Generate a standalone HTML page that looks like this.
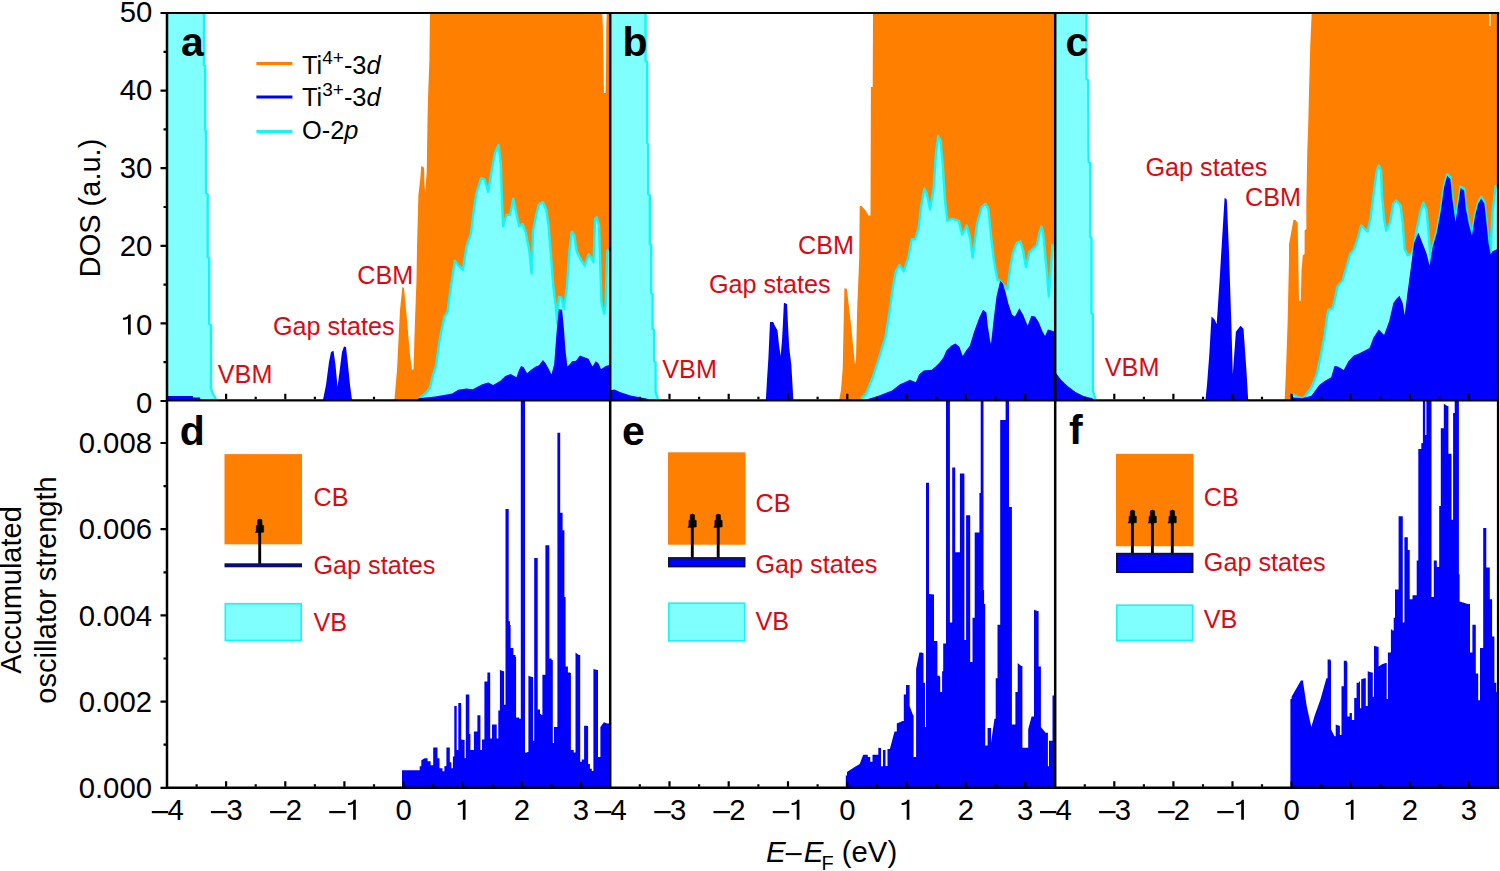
<!DOCTYPE html>
<html><head><meta charset="utf-8"><title>DOS figure</title>
<style>
html,body{margin:0;padding:0;background:#fff;}
body{width:1500px;height:871px;overflow:hidden;}
svg{display:block;font-family:"Liberation Sans", sans-serif;}
.t28{font-size:29.3px;fill:#000;}
.t29{font-size:29px;fill:#000;}
.e{text-anchor:end;}
.m{text-anchor:middle;}
.r24{font-size:25.2px;fill:#DA0A14;}
.lg{font-size:25.4px;fill:#000;}
.sup{font-size:19px;}
.pl{font-size:41px;font-weight:bold;fill:#000;}
</style></head>
<body>
<svg width="1500" height="871" viewBox="0 0 1500 871">
<rect width="1500" height="871" fill="#fff"/>
<path d="M196.6,399.3v-2.5 M226.1,399.3v-5.5 M255.7,399.3v-2.5 M285.3,399.3v-5.5 M314.9,399.3v-2.5 M344.4,399.3v-5.5 M374.0,399.3v-2.5 M403.6,399.3v-5.5 M433.1,399.3v-2.5 M462.7,399.3v-5.5 M492.3,399.3v-2.5 M521.8,399.3v-5.5 M551.4,399.3v-2.5 M581.0,399.3v-5.5" stroke="#000" stroke-width="2.2" fill="none"/>
<polygon points="167.5,13.0 204.0,13.0 204.0,65.0 205.2,66.0 205.2,130.0 206.0,131.0 206.0,193.0 207.7,194.0 207.7,257.0 209.2,258.0 209.2,324.0 211.0,325.0 211.0,388.0 212.5,393.0 215.3,398.0 216.5,401.0 167.5,401.0" fill="#80FFFF" />
<polyline points="204.0,13.0 204.0,65.0 205.2,66.0 205.2,130.0 206.0,131.0 206.0,193.0 207.7,194.0 207.7,257.0 209.2,258.0 209.2,324.0 211.0,325.0 211.0,388.0 212.5,393.0 215.3,398.0 216.1,399.8" fill="none" stroke="#18F4F4" stroke-width="2.4" stroke-linejoin="round" />
<polygon points="166.8,395.9 192.7,395.9 193.2,397.5 200.1,397.5 200.5,401.0 166.8,401.0" fill="#0000FF" />
<polygon points="322.8,401.0 326.0,385.0 329.0,362.0 331.0,352.0 333.5,350.8 335.5,365.0 337.5,387.0 339.5,372.0 342.0,352.0 344.0,346.5 346.0,347.0 348.0,365.0 350.0,385.0 352.1,401.0" fill="#0000FF" />
<polygon points="394.3,401.0 397.0,370.0 400.0,310.0 402.4,286.8 404.0,288.0 407.0,320.0 410.0,355.0 412.0,370.0 413.5,369.0 415.0,320.0 416.5,280.0 417.0,247.0 418.4,195.0 420.3,178.5 421.2,166.0 424.0,167.4 424.5,185.0 425.3,192.0 426.0,180.0 426.7,173.0 427.5,120.0 428.0,98.6 429.4,60.0 430.0,13.0 602.2,13.0 602.8,26.0 603.6,70.0 604.0,93.0 605.5,93.0 606.0,70.0 606.3,26.0 606.8,13.0 610.0,13.0 610.0,401.0" fill="#FF8000" />
<polygon points="418.5,401.0 419.0,398.5 426.0,393.0 430.0,388.0 433.0,375.0 436.0,366.0 438.8,345.0 441.5,330.0 444.5,316.5 447.5,312.0 450.3,290.6 454.9,260.7 458.3,265.3 462.9,269.9 466.4,247.0 471.0,233.2 474.4,205.7 476.7,191.9 481.3,178.2 484.7,179.3 488.2,191.9 491.6,171.3 495.0,152.9 498.5,144.9 500.8,164.4 501.9,198.8 503.1,226.3 506.5,214.9 510.0,214.9 513.4,198.8 515.7,210.3 519.1,226.3 522.6,224.0 526.0,233.2 529.4,251.6 531.6,273.6 533.2,230.2 536.4,214.1 538.8,204.5 542.9,202.1 546.1,209.3 548.5,225.4 550.9,254.3 553.3,286.5 555.7,305.8 557.3,323.4 558.9,296.9 561.4,297.7 563.8,309.0 567.0,286.5 569.4,251.1 571.8,231.8 574.2,235.0 576.6,251.1 581.4,260.7 584.7,265.6 588.7,254.3 591.1,257.5 593.5,262.3 595.1,218.9 596.7,217.3 599.1,225.4 599.9,254.3 601.5,302.5 604.0,313.8 605.6,305.8 607.2,251.1 608.8,249.5 610.0,249.5 610.0,401.0" fill="#80FFFF" />
<polyline points="419.0,398.5 426.0,393.0 430.0,388.0 433.0,375.0 436.0,366.0 438.8,345.0 441.5,330.0 444.5,316.5 447.5,312.0 450.3,290.6 454.9,260.7 458.3,265.3 462.9,269.9 466.4,247.0 471.0,233.2 474.4,205.7 476.7,191.9 481.3,178.2 484.7,179.3 488.2,191.9 491.6,171.3 495.0,152.9 498.5,144.9 500.8,164.4 501.9,198.8 503.1,226.3 506.5,214.9 510.0,214.9 513.4,198.8 515.7,210.3 519.1,226.3 522.6,224.0 526.0,233.2 529.4,251.6 531.6,273.6 533.2,230.2 536.4,214.1 538.8,204.5 542.9,202.1 546.1,209.3 548.5,225.4 550.9,254.3 553.3,286.5 555.7,305.8 557.3,323.4 558.9,296.9 561.4,297.7 563.8,309.0 567.0,286.5 569.4,251.1 571.8,231.8 574.2,235.0 576.6,251.1 581.4,260.7 584.7,265.6 588.7,254.3 591.1,257.5 593.5,262.3 595.1,218.9 596.7,217.3 599.1,225.4 599.9,254.3 601.5,302.5 604.0,313.8 605.6,305.8 607.2,251.1 608.8,249.5 610.0,249.5" fill="none" stroke="#18F4F4" stroke-width="2.4" stroke-linejoin="round" />
<polygon points="418.4,401.0 418.4,398.2 435.3,396.4 452.2,393.4 458.2,389.8 466.6,388.6 472.7,389.2 482.3,384.3 488.3,382.5 493.1,384.9 500.0,381.1 505.3,375.9 510.6,373.9 516.5,377.2 519.0,370.0 521.1,366.0 523.5,367.0 527.1,373.2 531.7,369.3 535.7,366.6 539.0,365.3 542.9,360.0 545.6,363.3 548.9,369.3 551.5,374.5 554.2,364.0 555.5,346.8 556.8,329.6 558.8,309.2 562.1,309.8 564.1,331.0 565.4,349.4 567.4,366.6 570.0,364.0 572.0,361.3 576.0,360.7 579.9,355.4 583.2,356.7 588.5,358.7 592.5,366.6 595.8,361.3 598.4,363.3 601.1,369.3 605.7,366.0 608.3,365.3 610.0,365.3 610.0,401.0" fill="#0000FF" />
<polygon points="611.0,13.0 645.6,13.0 645.6,61.0 647.2,62.0 647.2,143.0 648.2,144.0 648.2,194.0 649.8,195.0 649.8,244.0 651.2,245.0 651.2,293.0 652.6,294.0 652.6,329.0 654.1,330.0 654.1,361.0 655.6,362.0 655.6,392.0 657.4,397.4 658.5,401.0 611.0,401.0" fill="#80FFFF" />
<polyline points="645.6,13.0 645.6,61.0 647.2,62.0 647.2,143.0 648.2,144.0 648.2,194.0 649.8,195.0 649.8,244.0 651.2,245.0 651.2,293.0 652.6,294.0 652.6,329.0 654.1,330.0 654.1,361.0 655.6,362.0 655.6,392.0 657.4,397.4 658.1,399.8" fill="none" stroke="#18F4F4" stroke-width="2.4" stroke-linejoin="round" />
<polygon points="611.0,390.0 614.6,389.5 620.0,392.0 630.5,395.5 647.5,398.8 650.0,401.0 611.0,401.0" fill="#0000FF" />
<polygon points="765.8,401.0 767.0,380.0 768.4,358.0 770.0,322.0 773.2,322.0 775.0,326.0 777.5,330.4 779.0,345.0 780.7,355.9 782.0,340.0 782.8,326.0 783.9,302.8 787.0,303.9 788.0,325.0 789.2,347.4 791.3,364.4 792.5,385.0 793.4,401.0" fill="#0000FF" />
<polygon points="839.0,401.0 841.0,390.0 842.7,368.6 844.4,288.0 846.9,289.0 850.7,321.9 855.0,364.4 856.0,360.0 857.1,311.3 859.2,258.2 859.7,205.9 861.7,205.9 866.0,211.0 868.5,215.5 870.5,215.5 870.9,87.0 872.7,87.0 873.0,13.0 1055.0,13.0 1055.0,401.0" fill="#FF8000" />
<polygon points="859.5,401.0 861.0,398.5 866.0,394.0 872.9,377.0 879.0,358.0 885.5,336.7 889.5,312.0 893.1,286.0 896.0,271.0 899.4,265.0 903.8,271.4 908.3,257.6 911.8,239.3 915.2,239.3 918.7,227.8 921.0,207.2 924.4,188.8 926.7,193.4 930.1,209.4 933.6,188.8 935.9,154.4 938.2,136.1 940.5,140.6 942.8,165.9 945.0,200.3 947.3,220.9 951.9,218.6 958.8,220.9 962.2,234.7 966.8,225.5 970.3,239.3 972.6,257.6 977.2,223.2 981.7,207.2 985.5,203.8 988.3,208.3 991.0,235.9 993.8,259.7 997.4,279.9 1000.2,280.8 1003.9,285.4 1007.5,289.1 1010.3,267.1 1013.0,252.4 1016.7,243.2 1020.4,241.4 1023.1,250.6 1025.9,267.1 1029.5,252.4 1033.2,248.7 1036.9,245.0 1039.6,232.2 1041.5,226.7 1043.3,234.0 1045.1,254.2 1047.0,272.6 1048.8,296.4 1050.6,272.6 1052.5,245.0 1054.5,245.0 1055.0,401.0" fill="#80FFFF" />
<polyline points="861.0,398.5 866.0,394.0 872.9,377.0 879.0,358.0 885.5,336.7 889.5,312.0 893.1,286.0 896.0,271.0 899.4,265.0 903.8,271.4 908.3,257.6 911.8,239.3 915.2,239.3 918.7,227.8 921.0,207.2 924.4,188.8 926.7,193.4 930.1,209.4 933.6,188.8 935.9,154.4 938.2,136.1 940.5,140.6 942.8,165.9 945.0,200.3 947.3,220.9 951.9,218.6 958.8,220.9 962.2,234.7 966.8,225.5 970.3,239.3 972.6,257.6 977.2,223.2 981.7,207.2 985.5,203.8 988.3,208.3 991.0,235.9 993.8,259.7 997.4,279.9 1000.2,280.8 1003.9,285.4 1007.5,289.1 1010.3,267.1 1013.0,252.4 1016.7,243.2 1020.4,241.4 1023.1,250.6 1025.9,267.1 1029.5,252.4 1033.2,248.7 1036.9,245.0 1039.6,232.2 1041.5,226.7 1043.3,234.0 1045.1,254.2 1047.0,272.6 1048.8,296.4 1050.6,272.6 1052.5,245.0 1054.5,245.0" fill="none" stroke="#18F4F4" stroke-width="2.4" stroke-linejoin="round" />
<polygon points="861.4,401.0 877.8,395.9 892.0,390.6 900.0,384.3 904.6,382.3 909.9,379.7 915.8,382.3 919.1,374.4 923.7,370.5 931.7,369.8 935.6,366.5 939.6,362.6 943.5,357.3 946.2,350.7 951.5,345.4 955.4,343.4 959.4,346.7 962.7,356.0 966.0,350.7 969.9,345.4 973.9,332.2 979.2,317.7 983.1,309.8 986.4,312.4 987.7,325.6 990.0,340.1 991.0,344.1 993.8,318.4 996.5,296.4 1000.2,280.8 1002.9,283.6 1005.7,292.8 1008.4,303.8 1012.1,314.8 1014.9,316.6 1019.4,308.3 1023.1,314.8 1027.7,325.8 1031.4,315.7 1035.0,316.6 1038.7,322.1 1042.4,331.3 1045.1,335.9 1047.9,329.4 1051.6,330.4 1053.4,331.3 1055.0,331.3 1055.0,401.0" fill="#0000FF" />
<polygon points="1056.0,13.0 1086.5,13.0 1086.5,79.0 1088.2,80.0 1088.5,153.0 1088.7,162.0 1090.3,163.0 1090.3,237.0 1091.5,238.0 1091.5,313.0 1092.9,314.0 1092.9,391.0 1094.5,396.0 1096.0,401.0 1056.0,401.0" fill="#80FFFF" />
<polyline points="1086.5,13.0 1086.5,79.0 1088.2,80.0 1088.5,153.0 1088.7,162.0 1090.3,163.0 1090.3,237.0 1091.5,238.0 1091.5,313.0 1092.9,314.0 1092.9,391.0 1094.5,396.0 1095.6,399.8" fill="none" stroke="#18F4F4" stroke-width="2.4" stroke-linejoin="round" />
<polygon points="1056.0,372.9 1060.6,379.2 1067.0,385.6 1075.5,392.0 1084.0,396.2 1092.5,398.3 1094.0,401.0 1056.0,401.0" fill="#0000FF" />
<polygon points="1205.4,401.0 1207.0,385.0 1209.4,353.0 1211.5,316.6 1214.6,319.6 1216.7,324.2 1219.8,277.0 1222.2,237.4 1224.6,197.8 1226.8,199.4 1228.9,249.6 1231.3,322.6 1232.8,374.4 1235.9,331.8 1240.5,325.7 1243.5,328.7 1246.5,371.4 1248.1,398.7 1248.5,401.0" fill="#0000FF" />
<polygon points="1284.6,401.0 1286.0,370.0 1287.6,322.6 1289.0,260.0 1289.0,244.3 1290.4,236.7 1291.8,229.1 1293.5,219.8 1295.6,220.0 1297.7,222.9 1298.3,260.0 1299.0,301.0 1300.8,301.0 1301.5,270.0 1302.8,255.3 1304.6,254.0 1304.6,230.5 1306.3,229.0 1306.3,205.0 1307.3,150.6 1308.1,130.0 1308.9,96.4 1310.3,44.0 1311.7,13.0 1498.0,13.0 1498.0,401.0" fill="#FF8000" />
<polygon points="1290.0,401.0 1292.0,394.0 1296.0,396.0 1300.0,398.0 1303.5,398.3 1311.4,387.8 1316.7,374.5 1320.7,356.0 1324.6,334.9 1327.3,315.1 1328.6,309.8 1332.6,308.5 1335.2,297.9 1337.6,286.0 1342.7,280.2 1346.9,265.7 1350.0,254.3 1354.1,249.2 1358.2,236.8 1361.3,225.4 1364.4,228.5 1367.5,231.6 1370.6,218.2 1373.7,193.4 1376.8,170.7 1378.9,165.5 1381.0,170.7 1382.0,195.5 1384.0,218.2 1386.1,230.6 1390.2,222.3 1393.3,203.7 1396.4,200.6 1400.6,205.8 1402.6,222.3 1404.7,249.2 1407.8,255.4 1411.9,253.3 1413.1,251.2 1416.2,232.6 1420.3,212.0 1423.4,202.7 1426.5,209.9 1428.6,232.6 1429.6,249.2 1430.7,261.6 1432.7,245.5 1436.9,231.0 1441.0,208.3 1444.1,185.6 1447.2,174.2 1450.3,177.3 1452.4,198.0 1455.5,220.7 1458.6,200.1 1460.6,186.6 1464.1,188.7 1465.8,206.3 1468.9,222.8 1472.0,234.1 1475.1,214.5 1478.2,202.1 1481.3,197.0 1484.4,202.1 1486.4,220.7 1488.5,241.4 1490.6,252.7 1492.6,212.0 1495.7,186.2 1497.0,186.0 1498.0,401.0" fill="#80FFFF" />
<polyline points="1292.0,394.0 1296.0,396.0 1300.0,398.0 1303.5,398.3 1311.4,387.8 1316.7,374.5 1320.7,356.0 1324.6,334.9 1327.3,315.1 1328.6,309.8 1332.6,308.5 1335.2,297.9 1337.6,286.0 1342.7,280.2 1346.9,265.7 1350.0,254.3 1354.1,249.2 1358.2,236.8 1361.3,225.4 1364.4,228.5 1367.5,231.6 1370.6,218.2 1373.7,193.4 1376.8,170.7 1378.9,165.5 1381.0,170.7 1382.0,195.5 1384.0,218.2 1386.1,230.6 1390.2,222.3 1393.3,203.7 1396.4,200.6 1400.6,205.8 1402.6,222.3 1404.7,249.2 1407.8,255.4 1411.9,253.3 1413.1,251.2 1416.2,232.6 1420.3,212.0 1423.4,202.7 1426.5,209.9 1428.6,232.6 1429.6,249.2 1430.7,261.6 1432.7,245.5 1436.9,231.0 1441.0,208.3 1444.1,185.6 1447.2,174.2 1450.3,177.3 1452.4,198.0 1455.5,220.7 1458.6,200.1 1460.6,186.6 1464.1,188.7 1465.8,206.3 1468.9,222.8 1472.0,234.1 1475.1,214.5 1478.2,202.1 1481.3,197.0 1484.4,202.1 1486.4,220.7 1488.5,241.4 1490.6,252.7 1492.6,212.0 1495.7,186.2 1497.0,186.0" fill="none" stroke="#18F4F4" stroke-width="2.4" stroke-linejoin="round" />
<polygon points="1290.5,401.0 1291.6,394.4 1293.5,397.5 1302.2,398.3 1311.4,395.7 1319.3,385.1 1324.6,381.1 1331.2,377.2 1334.5,366.0 1337.8,366.6 1343.8,369.9 1348.4,361.3 1353.7,355.4 1359.0,353.4 1364.3,350.8 1369.5,348.1 1373.5,337.6 1378.8,329.6 1384.1,334.9 1389.4,320.4 1393.3,303.2 1396.4,298.8 1399.5,295.7 1402.6,302.9 1404.7,315.3 1407.8,290.5 1410.0,274.0 1414.1,243.0 1418.3,232.6 1422.4,243.0 1426.5,253.3 1429.6,265.7 1432.7,247.1 1436.9,232.6 1441.0,209.9 1444.1,187.2 1447.2,175.8 1450.3,178.9 1452.4,199.6 1455.5,222.3 1458.6,201.7 1460.6,188.2 1464.1,190.3 1465.8,207.9 1468.9,224.4 1472.0,235.7 1475.1,216.1 1478.2,203.7 1481.3,198.6 1484.4,203.7 1486.4,222.3 1488.5,243.0 1490.6,254.3 1492.6,251.2 1496.8,249.2 1498.0,249.2 1498.0,401.0" fill="#0000FF" />
<rect x="1489.2" y="13.0" width="1.5" height="13" fill="#FFF2D0"/>
<polygon points="402.0,788.5 402.0,770.2 418.8,770.2 419.7,770.2 419.7,766.2 421.3,766.2 421.3,760.3 424.7,758.3 427.6,758.3 427.6,761.3 430.6,761.3 430.6,765.3 433.2,765.3 433.2,765.0 433.2,747.5 436.5,747.5 437.5,747.5 437.5,758.3 439.5,758.3 439.5,768.2 442.5,768.2 442.5,771.2 444.4,771.2 444.4,766.2 446.4,766.0 446.4,747.5 449.0,747.5 449.8,747.5 449.8,762.3 451.4,762.3 451.4,768.2 452.9,768.2 452.9,756.4 454.3,756.4 454.3,756.0 454.3,706.0 456.7,706.0 456.7,750.0 458.3,750.0 458.3,703.0 461.2,703.0 461.2,739.6 464.6,740.0 464.6,758.2 465.8,758.0 465.8,694.4 468.8,694.4 469.3,694.4 469.3,733.9 470.4,733.9 470.4,750.1 473.9,750.0 473.9,731.5 477.4,731.5 477.4,715.3 479.7,715.3 480.4,715.3 480.4,750.1 482.0,750.1 482.0,739.6 484.4,739.6 484.4,681.6 487.4,681.6 487.4,672.4 489.7,672.4 490.2,672.4 490.2,738.5 492.0,738.5 492.0,724.6 494.8,724.6 496.7,724.6 496.7,738.5 498.3,738.5 498.3,710.6 499.9,710.6 499.9,670.0 503.6,671.2 504.1,671.2 504.1,704.8 505.5,704.8 505.5,508.9 508.7,508.9 508.7,621.3 510.0,621.3 510.0,625.0 510.6,625.0 510.6,648.0 513.4,648.0 513.4,655.0 515.5,655.0 515.5,657.0 516.1,657.0 516.1,717.6 519.2,717.6 519.2,718.8 520.8,718.8 520.8,401.0 525.0,401.0 525.0,752.4 527.3,752.4 527.3,752.0 528.4,752.0 528.4,675.8 531.9,677.0 533.1,677.0 533.1,740.8 534.2,740.8 534.2,558.1 537.0,558.1 537.7,558.1 537.7,709.5 540.0,709.5 540.0,714.1 541.2,714.1 541.2,715.0 542.4,715.0 542.4,674.7 545.4,674.7 545.4,545.3 548.6,545.3 549.3,545.3 549.3,658.4 551.6,658.4 551.6,660.0 552.8,660.0 552.8,743.1 554.0,743.1 554.0,726.9 557.4,726.9 557.4,432.8 560.2,432.8 560.2,512.8 562.6,512.8 562.6,530.2 564.4,530.2 564.4,597.0 565.6,597.0 565.6,666.6 567.9,666.6 567.9,672.4 570.2,672.4 570.2,673.0 570.9,673.0 570.9,750.1 573.7,750.1 573.7,752.4 575.5,752.4 575.5,652.6 578.8,655.0 580.2,655.0 580.2,761.7 581.8,761.7 581.8,759.4 584.1,759.4 584.1,759.0 584.1,725.7 587.2,725.7 587.2,726.0 588.1,726.0 588.1,764.0 589.9,764.0 589.9,768.7 591.8,768.7 591.8,771.0 593.4,771.0 593.4,668.9 597.4,670.0 598.0,670.0 598.0,757.1 600.4,757.1 600.4,726.9 603.9,722.2 607.3,723.4 609.0,723.4 609.0,725.0 609.0,788.5" fill="#0000FF" />
<polygon points="845.8,788.5 845.8,775.6 847.0,775.6 847.0,772.1 853.9,767.5 859.7,764.0 863.2,754.7 865.5,754.7 867.8,754.7 867.8,757.0 870.2,757.0 870.2,761.7 872.5,761.7 872.5,754.7 876.0,754.7 878.3,754.7 878.3,747.8 880.5,748.0 881.0,748.0 881.0,766.3 882.5,766.3 883.0,766.3 883.0,750.1 885.0,750.1 885.5,750.1 885.5,766.0 887.0,766.0 887.5,766.0 887.5,748.9 889.9,748.9 894.5,731.5 896.8,731.5 896.8,723.4 902.6,721.1 903.8,721.1 903.8,694.4 906.0,694.4 906.0,685.1 908.0,685.1 909.6,685.1 909.6,706.0 913.1,715.3 913.6,715.3 913.6,757.0 915.0,757.0 916.1,757.0 916.1,668.9 919.4,652.6 922.3,652.6 922.3,653.0 923.5,653.0 923.5,682.8 925.0,682.8 925.0,726.9 926.0,726.9 926.0,482.7 929.0,482.7 929.0,594.0 933.6,594.6 934.0,594.6 934.0,641.0 936.3,641.0 937.4,641.0 937.4,675.8 939.8,675.8 939.8,677.0 940.2,677.0 940.2,692.1 942.1,692.1 942.1,671.2 943.2,671.2 943.2,643.4 946.0,643.4 946.0,643.0 946.0,401.0 949.9,401.0 949.9,622.5 951.0,622.5 952.2,622.5 952.2,600.0 952.2,467.6 955.2,467.6 955.2,552.3 959.2,552.3 959.9,552.3 959.9,473.4 963.8,473.4 964.4,473.4 964.4,639.9 965.5,639.9 966.1,639.9 966.1,515.2 969.6,515.2 970.2,515.2 970.2,661.9 971.3,661.9 972.5,661.9 972.5,617.8 974.7,617.8 974.7,532.6 979.4,532.6 979.4,493.1 980.7,493.1 980.7,401.0 983.5,401.0 983.5,590.0 984.1,590.0 984.1,604.0 985.2,604.0 985.2,745.5 986.5,745.5 987.6,745.5 987.6,728.0 990.0,728.0 991.0,728.0 991.0,743.1 994.5,718.8 995.7,718.8 995.7,678.2 997.5,678.2 997.5,624.8 1000.2,624.8 1000.2,600.0 1000.2,420.0 1004.4,420.0 1005.6,420.0 1005.6,401.0 1009.0,401.0 1009.0,507.0 1010.9,507.0 1011.9,507.0 1011.9,724.6 1014.3,724.6 1015.4,724.6 1015.4,692.1 1017.7,692.1 1017.7,663.1 1021.2,666.0 1022.4,666.0 1022.4,747.8 1025.8,747.8 1028.2,747.8 1028.2,729.2 1031.6,716.5 1034.0,716.5 1034.0,609.7 1037.5,611.0 1038.6,611.0 1038.6,666.6 1040.9,666.6 1040.9,726.9 1045.6,732.7 1047.9,732.7 1047.9,766.3 1049.0,766.3 1049.0,740.8 1051.4,740.8 1052.5,740.8 1052.5,695.6 1054.5,695.6 1054.5,788.5" fill="#0000FF" />
<polygon points="1290.4,788.5 1290.4,699.0 1291.6,699.0 1291.6,696.7 1300.9,680.5 1303.2,680.5 1303.2,682.8 1306.7,706.0 1311.3,726.9 1314.8,715.3 1320.6,699.0 1326.4,678.2 1327.6,678.2 1327.6,659.6 1330.6,659.6 1330.6,660.8 1331.0,660.8 1331.0,729.2 1334.5,736.2 1335.7,736.2 1335.7,724.6 1339.2,725.7 1339.9,725.7 1339.9,735.0 1341.5,735.0 1341.5,686.3 1343.8,686.3 1343.8,660.8 1346.8,660.8 1346.8,662.0 1347.3,662.0 1347.3,716.5 1349.6,716.5 1349.6,713.0 1351.9,713.0 1351.9,720.0 1354.2,720.0 1354.2,697.9 1356.6,697.9 1356.6,682.8 1358.9,682.8 1358.9,681.6 1360.0,681.6 1360.0,708.3 1361.2,708.3 1361.2,679.3 1364.7,678.2 1365.8,678.2 1365.8,706.0 1367.7,706.0 1367.7,671.2 1371.6,672.4 1372.8,672.4 1372.8,696.7 1374.0,696.7 1374.0,645.7 1377.4,646.8 1378.6,646.8 1378.6,666.6 1382.1,664.2 1385.6,663.1 1386.7,663.1 1386.7,699.0 1387.9,699.0 1387.9,652.6 1390.9,652.6 1390.9,629.4 1392.3,629.4 1392.3,630.6 1393.7,630.6 1393.7,617.8 1395.0,617.8 1395.0,589.4 1398.6,589.4 1398.6,516.3 1402.5,516.3 1402.8,516.3 1402.8,622.5 1403.9,622.5 1404.4,622.5 1404.4,537.2 1407.8,537.2 1407.8,550.0 1409.7,550.0 1409.7,599.3 1412.5,599.3 1412.5,595.2 1416.0,595.2 1416.7,595.2 1416.7,560.4 1418.3,560.4 1418.3,449.0 1421.3,449.0 1421.3,443.2 1422.9,443.0 1422.9,401.0 1425.2,401.0 1425.2,435.0 1426.4,435.0 1426.4,401.0 1431.0,401.0 1431.5,401.0 1431.5,597.0 1433.8,597.0 1433.8,560.4 1436.8,560.4 1436.8,567.0 1439.2,567.0 1439.2,505.9 1440.8,505.9 1440.8,428.2 1443.8,428.2 1443.8,403.8 1447.3,406.0 1448.4,406.0 1448.4,453.7 1451.5,453.7 1451.5,519.8 1453.1,519.8 1453.1,413.1 1454.7,413.1 1454.7,401.0 1458.9,401.0 1458.9,574.3 1459.6,574.3 1459.6,601.6 1464.0,602.8 1467.7,604.0 1470.0,604.0 1470.0,652.6 1472.4,652.6 1472.4,624.8 1474.7,624.8 1475.8,624.8 1475.8,673.5 1478.2,673.5 1478.2,700.2 1480.0,700.2 1480.0,648.0 1482.8,648.0 1483.2,648.0 1483.2,527.9 1486.3,527.9 1486.3,567.4 1489.0,567.4 1489.8,567.4 1489.8,599.3 1492.1,599.3 1492.1,636.4 1494.4,636.4 1494.4,682.8 1496.3,682.8 1496.3,692.1 1497.9,692.0 1497.9,788.5" fill="#0000FF" />
<rect x="224.5" y="454.1" width="77.5" height="90.2" fill="#FF8000"/>
<rect x="224.5" y="563.3" width="77.5" height="4.0" fill="#0A0A78"/>
<line x1="259.7" y1="563.8" x2="259.7" y2="524.9" stroke="#000" stroke-width="2.9"/>
<path d="M257.6,519.8 Q259.8,518.2 262.0,519.8 L262.1,525.2 L263.7,525.5 L263.7,532.2 L255.3,532.6 L256.3,530.7 L256.3,525.5 L257.6,525.2 Z" fill="#000" stroke="#000" stroke-width="0.5" stroke-linejoin="round"/>
<rect x="225.3" y="603.6999999999999" width="75.9" height="36.7" fill="#80FFFF" stroke="#18F4F4" stroke-width="1.6"/>
<text x="313.5" y="506.2" class="r24">CB</text>
<text x="313.5" y="573.9" class="r24">Gap states</text>
<text x="313.5" y="631.2" class="r24">VB</text>
<rect x="668.0" y="452.3" width="77.5" height="92.4" fill="#FF8000"/>
<rect x="668.9" y="558.0" width="75.7" height="8.5" fill="#0000FF" stroke="#101040" stroke-width="1.8"/>
<line x1="692.3" y1="557.6" x2="692.3" y2="520.0" stroke="#000" stroke-width="2.9"/>
<path d="M690.2,514.9 Q692.4,513.3 694.6,514.9 L694.7,520.1 L696.3,520.5 L696.3,527.0 L687.9,527.4 L688.9,525.5 L688.9,520.5 L690.2,520.1 Z" fill="#000" stroke="#000" stroke-width="0.5" stroke-linejoin="round"/>
<line x1="718.2" y1="557.6" x2="718.2" y2="520.0" stroke="#000" stroke-width="2.9"/>
<path d="M716.1,514.9 Q718.3,513.3 720.5,514.9 L720.6,520.1 L722.2,520.5 L722.2,527.0 L713.8,527.4 L714.8,525.5 L714.8,520.5 L716.1,520.1 Z" fill="#000" stroke="#000" stroke-width="0.5" stroke-linejoin="round"/>
<rect x="668.8" y="603.1999999999999" width="75.9" height="37.7" fill="#80FFFF" stroke="#18F4F4" stroke-width="1.6"/>
<text x="755.5" y="511.7" class="r24">CB</text>
<text x="755.5" y="572.9" class="r24">Gap states</text>
<text x="755.5" y="630.2" class="r24">VB</text>
<rect x="1116.0" y="453.8" width="77.5" height="92.4" fill="#FF8000"/>
<rect x="1116.9" y="553.6999999999999" width="75.7" height="18.4" fill="#0000FF" stroke="#101040" stroke-width="1.8"/>
<line x1="1132.4" y1="553.3" x2="1132.4" y2="516.0" stroke="#000" stroke-width="2.9"/>
<path d="M1130.3,510.9 Q1132.5,509.3 1134.7,510.9 L1134.8,516.0 L1136.4,516.4 L1136.4,522.7 L1128.0,523.1 L1129.0,521.2 L1129.0,516.4 L1130.3,516.0 Z" fill="#000" stroke="#000" stroke-width="0.5" stroke-linejoin="round"/>
<line x1="1152.4" y1="553.3" x2="1152.4" y2="516.0" stroke="#000" stroke-width="2.9"/>
<path d="M1150.3,510.9 Q1152.5,509.3 1154.7,510.9 L1154.8,516.0 L1156.4,516.4 L1156.4,522.7 L1148.0,523.1 L1149.0,521.2 L1149.0,516.4 L1150.3,516.0 Z" fill="#000" stroke="#000" stroke-width="0.5" stroke-linejoin="round"/>
<line x1="1172.3" y1="553.3" x2="1172.3" y2="516.0" stroke="#000" stroke-width="2.9"/>
<path d="M1170.2,510.9 Q1172.4,509.3 1174.6,510.9 L1174.7,516.0 L1176.3,516.4 L1176.3,522.7 L1167.9,523.1 L1168.9,521.2 L1168.9,516.4 L1170.2,516.0 Z" fill="#000" stroke="#000" stroke-width="0.5" stroke-linejoin="round"/>
<rect x="1116.8" y="605.1999999999999" width="75.9" height="35.2" fill="#80FFFF" stroke="#18F4F4" stroke-width="1.6"/>
<text x="1203.8" y="506.0" class="r24">CB</text>
<text x="1203.8" y="570.6" class="r24">Gap states</text>
<text x="1203.8" y="628.2" class="r24">VB</text>
<path d="M639.8,399.3v-2.5 M669.5,399.3v-5.5 M699.1,399.3v-2.5 M728.7,399.3v-5.5 M758.4,399.3v-2.5 M788.0,399.3v-5.5 M817.6,399.3v-2.5 M847.3,399.3v-5.5 M876.9,399.3v-2.5 M906.6,399.3v-5.5 M936.2,399.3v-2.5 M965.8,399.3v-5.5 M995.5,399.3v-2.5 M1025.1,399.3v-5.5 M1084.8,399.3v-2.5 M1114.3,399.3v-5.5 M1143.9,399.3v-2.5 M1173.4,399.3v-5.5 M1203.0,399.3v-2.5 M1232.5,399.3v-5.5 M1262.0,399.3v-2.5 M1291.6,399.3v-5.5 M1321.2,399.3v-2.5 M1350.7,399.3v-5.5 M1380.2,399.3v-2.5 M1409.8,399.3v-5.5 M1439.4,399.3v-2.5 M1468.9,399.3v-5.5 M196.6,786.8v-2.5 M226.1,786.8v-5.5 M255.7,786.8v-2.5 M285.3,786.8v-5.5 M314.9,786.8v-2.5 M344.4,786.8v-5.5 M374.0,786.8v-2.5 M403.6,786.8v-5.5 M433.1,786.8v-2.5 M462.7,786.8v-5.5 M492.3,786.8v-2.5 M521.8,786.8v-5.5 M551.4,786.8v-2.5 M581.0,786.8v-5.5 M639.8,786.8v-2.5 M669.5,786.8v-5.5 M699.1,786.8v-2.5 M728.7,786.8v-5.5 M758.4,786.8v-2.5 M788.0,786.8v-5.5 M817.6,786.8v-2.5 M847.3,786.8v-5.5 M876.9,786.8v-2.5 M906.6,786.8v-5.5 M936.2,786.8v-2.5 M965.8,786.8v-5.5 M995.5,786.8v-2.5 M1025.1,786.8v-5.5 M1084.8,786.8v-2.5 M1114.3,786.8v-5.5 M1143.9,786.8v-2.5 M1173.4,786.8v-5.5 M1203.0,786.8v-2.5 M1232.5,786.8v-5.5 M1262.0,786.8v-2.5 M1291.6,786.8v-5.5 M1321.2,786.8v-2.5 M1350.7,786.8v-5.5 M1380.2,786.8v-2.5 M1409.8,786.8v-5.5 M1439.4,786.8v-2.5 M1468.9,786.8v-5.5 M166.0,401.0h-5.5 M166.0,362.2h-2.5 M166.0,323.4h-5.5 M166.0,284.6h-2.5 M166.0,245.8h-5.5 M166.0,207.0h-2.5 M166.0,168.2h-5.5 M166.0,129.4h-2.5 M166.0,90.6h-5.5 M166.0,51.8h-2.5 M166.0,13.0h-5.5 M166.0,787.8h-5.5 M166.0,744.7h-2.5 M166.0,701.6h-5.5 M166.0,658.5h-2.5 M166.0,615.4h-5.5 M166.0,572.3h-2.5 M166.0,529.2h-5.5 M166.0,486.1h-2.5 M166.0,443.0h-5.5" stroke="#000" stroke-width="2.2" fill="none"/>
<line x1="167.0" y1="13.0" x2="167.0" y2="789.0" stroke="#000" stroke-width="2.5"/>
<line x1="165.8" y1="13.0" x2="1499.2" y2="13.0" stroke="#000" stroke-width="2.2"/>
<line x1="165.8" y1="787.8" x2="1499.2" y2="787.8" stroke="#000" stroke-width="2.4"/>
<line x1="1498" y1="13.0" x2="1498" y2="787.8" stroke="#000" stroke-width="2.2"/>
<line x1="167.0" y1="400.3" x2="1498" y2="400.3" stroke="#000" stroke-width="2.3"/>
<line x1="610.2" y1="13.0" x2="610.2" y2="787.8" stroke="#000" stroke-width="2.5"/>
<line x1="1055.2" y1="13.0" x2="1055.2" y2="787.8" stroke="#000" stroke-width="2.5"/>
<text x="152.3" y="412.9" class="t28 e">0</text>
<text x="152.3" y="334.6" class="t28 e">0</text>
<path d="M128.01,334.62 L130.71,334.62 L130.71,314.46 L128.68,314.46 C128.22,316.31 126.11,317.48 122.94,317.77 L122.94,319.82 C125.23,319.68 126.98,319.24 128.01,318.50 Z" fill="#000"/>
<text x="152.3" y="256.3" class="t28 e">20</text>
<text x="152.3" y="178.1" class="t28 e">30</text>
<text x="152.3" y="99.8" class="t28 e">40</text>
<text x="152.3" y="21.5" class="t28 e">50</text>
<text x="152.0" y="797.9" class="t28 e">0.000</text>
<text x="152.0" y="711.7" class="t28 e">0.002</text>
<text x="152.0" y="625.5" class="t28 e">0.004</text>
<text x="152.0" y="539.3" class="t28 e">0.006</text>
<text x="152.0" y="453.1" class="t28 e">0.008</text>
<rect x="151.8" y="811.0" width="16.4" height="2.2" fill="#000"/>
<text x="167.4" y="819.8" class="t28">4</text>
<rect x="210.9" y="811.0" width="16.4" height="2.2" fill="#000"/>
<text x="226.6" y="819.8" class="t28">3</text>
<rect x="270.1" y="811.0" width="16.4" height="2.2" fill="#000"/>
<text x="285.7" y="819.8" class="t28">2</text>
<rect x="329.2" y="811.0" width="16.4" height="2.2" fill="#000"/>
<path d="M353.12,819.80 L355.82,819.80 L355.82,799.64 L353.80,799.64 C353.33,801.49 351.22,802.66 348.05,802.95 L348.05,805.00 C350.34,804.86 352.10,804.42 353.12,803.68 Z" fill="#000"/>
<text x="403.6" y="819.8" class="t28 m">0</text>
<path d="M462.85,819.80 L465.54,819.80 L465.54,799.64 L463.52,799.64 C463.05,801.49 460.94,802.66 457.78,802.95 L457.78,805.00 C460.06,804.86 461.82,804.42 462.85,803.68 Z" fill="#000"/>
<text x="521.8" y="819.8" class="t28 m">2</text>
<text x="581.0" y="819.8" class="t28 m">3</text>
<rect x="595.0" y="811.0" width="16.4" height="2.2" fill="#000"/>
<text x="610.6" y="819.8" class="t28">4</text>
<rect x="654.3" y="811.0" width="16.4" height="2.2" fill="#000"/>
<text x="669.9" y="819.8" class="t28">3</text>
<rect x="713.5" y="811.0" width="16.4" height="2.2" fill="#000"/>
<text x="729.2" y="819.8" class="t28">2</text>
<rect x="772.8" y="811.0" width="16.4" height="2.2" fill="#000"/>
<path d="M796.71,819.80 L799.41,819.80 L799.41,799.64 L797.39,799.64 C796.92,801.49 794.81,802.66 791.64,802.95 L791.64,805.00 C793.93,804.86 795.69,804.42 796.71,803.68 Z" fill="#000"/>
<text x="847.3" y="819.8" class="t28 m">0</text>
<path d="M906.70,819.80 L909.39,819.80 L909.39,799.64 L907.37,799.64 C906.90,801.49 904.79,802.66 901.63,802.95 L901.63,805.00 C903.91,804.86 905.67,804.42 906.70,803.68 Z" fill="#000"/>
<text x="965.8" y="819.8" class="t28 m">2</text>
<text x="1025.1" y="819.8" class="t28 m">3</text>
<rect x="1040.0" y="811.0" width="16.4" height="2.2" fill="#000"/>
<text x="1055.6" y="819.8" class="t28">4</text>
<rect x="1099.1" y="811.0" width="16.4" height="2.2" fill="#000"/>
<text x="1114.7" y="819.8" class="t28">3</text>
<rect x="1158.2" y="811.0" width="16.4" height="2.2" fill="#000"/>
<text x="1173.8" y="819.8" class="t28">2</text>
<rect x="1217.3" y="811.0" width="16.4" height="2.2" fill="#000"/>
<path d="M1241.20,819.80 L1243.90,819.80 L1243.90,799.64 L1241.88,799.64 C1241.41,801.49 1239.30,802.66 1236.13,802.95 L1236.13,805.00 C1238.42,804.86 1240.18,804.42 1241.20,803.68 Z" fill="#000"/>
<text x="1291.6" y="819.8" class="t28 m">0</text>
<path d="M1350.85,819.80 L1353.54,819.80 L1353.54,799.64 L1351.52,799.64 C1351.05,801.49 1348.94,802.66 1345.78,802.95 L1345.78,805.00 C1348.06,804.86 1349.82,804.42 1350.85,803.68 Z" fill="#000"/>
<text x="1409.8" y="819.8" class="t28 m">2</text>
<text x="1468.9" y="819.8" class="t28 m">3</text>
<text x="181" y="55.5" class="pl">a</text>
<text x="622.5" y="56" class="pl">b</text>
<text x="1065.5" y="56" class="pl">c</text>
<text x="179.7" y="445" class="pl">d</text>
<text x="622" y="444.6" class="pl">e</text>
<text x="1069" y="443.7" class="pl">f</text>
<text x="217.8" y="383" class="r24">VBM</text>
<text x="272.9" y="335.3" class="r24">Gap states</text>
<text x="357.3" y="283.6" class="r24">CBM</text>
<text x="662.3" y="378.2" class="r24">VBM</text>
<text x="708.9" y="292.6" class="r24">Gap states</text>
<text x="798.1" y="254" class="r24">CBM</text>
<text x="1104.8" y="376" class="r24">VBM</text>
<text x="1145.5" y="175.9" class="r24">Gap states</text>
<text x="1245" y="206.4" class="r24">CBM</text>
<line x1="256.4" y1="63.4" x2="292.4" y2="63.4" stroke="#FF8000" stroke-width="3"/>
<line x1="256.4" y1="96.9" x2="292.4" y2="96.9" stroke="#0000FF" stroke-width="3"/>
<line x1="256.4" y1="131.5" x2="292.4" y2="131.5" stroke="#18F4F4" stroke-width="3"/>
<text x="302" y="73.5" class="lg">Ti<tspan class="sup" dy="-10">4+</tspan><tspan dy="10">-3</tspan><tspan font-style="italic">d</tspan></text>
<text x="302" y="106.3" class="lg">Ti<tspan class="sup" dy="-10">3+</tspan><tspan dy="10">-3</tspan><tspan font-style="italic">d</tspan></text>
<text x="302" y="139.1" class="lg">O-2<tspan font-style="italic">p</tspan></text>
<text transform="translate(100.2,208) rotate(-90)" class="t29 m">DOS (a.u.)</text>
<text transform="translate(20.7,590) rotate(-90)" class="t29 m">Accumulated</text>
<text transform="translate(55.6,590) rotate(-90)" class="t29 m">oscillator strength</text>
<text x="766.0" y="861.9" style="font-size:29.6px;font-style:italic">E</text>
<rect x="785.7" y="853.1" width="15.9" height="2.0" fill="#000"/>
<text x="803.8" y="861.9" style="font-size:29.6px;font-style:italic">E</text>
<text x="821.6" y="870.0" style="font-size:20px">F</text>
<text x="841.8" y="861.9" style="font-size:29.3px">(eV)</text>
</svg>
</body></html>
